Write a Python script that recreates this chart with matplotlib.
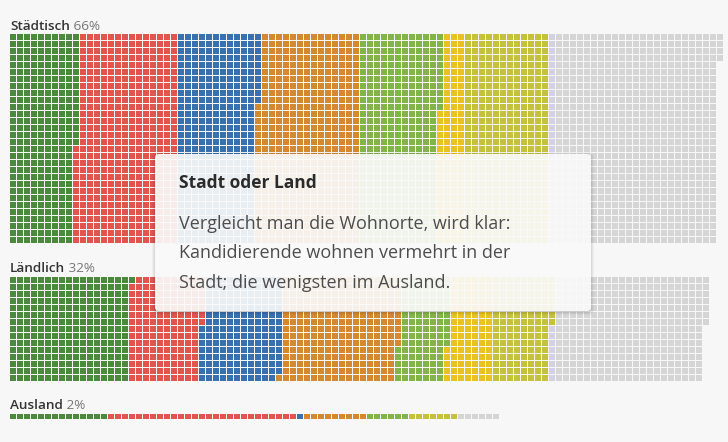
import matplotlib
matplotlib.use("Agg")
import matplotlib.pyplot as plt
from matplotlib.patches import Rectangle, FancyBboxPatch
from matplotlib.collections import PatchCollection

# categories (party order as filled in the waffle)
parties = ["SVP", "SP", "FDP", "Mitte", "Grüne", "EVP", "GLP", "EDU", "Übrige"]
colors = ["#4b8a3c", "#e2554f", "#3970b0", "#d4892f", "#83b447",
          "#e8c220", "#c5c13b", "#d3d2e2", "#d5d5d5"]

groups = ["Städtisch", "Ländlich", "Ausland"]
shares = ["66%", "32%", "2%"]
group_rows = [30, 15, 1]

# number of candidates per party and place of residence
staedtisch = [286, 434, 340, 440, 341, 109, 360, 30, 694]
laendlich = [256, 156, 172, 251, 105, 95, 127, 8, 322]
ausland = [14, 27, 1, 9, 6, 0, 7, 0, 6]
counts = [staedtisch, laendlich, ausland]

tip_title = "Stadt oder Land"
tip_lines = ["Vergleicht man die Wohnorte, wird klar:",
             "Kandidierende wohnen vermehrt in der",
             "Stadt; die wenigsten im Ausland."]

# layout in pixels
W, H = 728, 442
x0 = 10
pitch = 7
cell = 5.5
tops = [34, 277, 413.5]

plt.rcParams['font.family'] = ['Open Sans', 'DejaVu Sans']

fig = plt.figure(figsize=(W / 100, H / 100), dpi=100, facecolor="#f7f7f7")
ax = fig.add_axes([0, 0, 1, 1])
ax.set_xlim(0, W)
ax.set_ylim(H, 0)
ax.axis("off")

for g, name in enumerate(groups):
    nrows = group_rows[g]
    top = tops[g]
    rects, fcs = [], []
    i = 0
    for p, n in enumerate(counts[g]):
        for _ in range(n):
            col, row = divmod(i, nrows)
            rects.append(Rectangle((x0 + col * pitch, top + row * pitch), cell, cell))
            fcs.append(colors[p])
            i += 1
    ax.add_collection(PatchCollection(rects, facecolors=fcs, edgecolors="none"))
    t = ax.text(x0, top - 4.5, name, fontsize=9.7, color="#333333", weight="semibold",
                va="baseline", ha="left")
    ax.annotate(" " + shares[g], xycoords=t, xy=(1, 0), va="bottom", ha="left",
                fontsize=9.7, color="#777777")

# tooltip box
bx, by, bw, bh = 155, 154, 436, 157
for k, a in [(4, 0.03), (3, 0.04), (2, 0.05), (1, 0.06)]:
    ax.add_patch(FancyBboxPatch((bx - k + 1, by - k + 2), bw + 2 * k - 2, bh + 2 * k - 2,
                                boxstyle="round,pad=0,rounding_size=5",
                                facecolor="black", edgecolor="none", alpha=a))
ax.add_patch(FancyBboxPatch((bx, by), bw, bh, boxstyle="round,pad=0,rounding_size=4",
                            facecolor="white", edgecolor="none", alpha=0.9))
ax.text(179, 188, tip_title, fontsize=12.5, weight="bold", color="#2b2b2b", va="baseline")
for j, line in enumerate(tip_lines):
    ax.text(179, 229 + j * 29.5, line, fontsize=13.0, color="#4d4d4d", va="baseline")

fig.savefig("out.png", dpi=100, facecolor=fig.get_facecolor())
